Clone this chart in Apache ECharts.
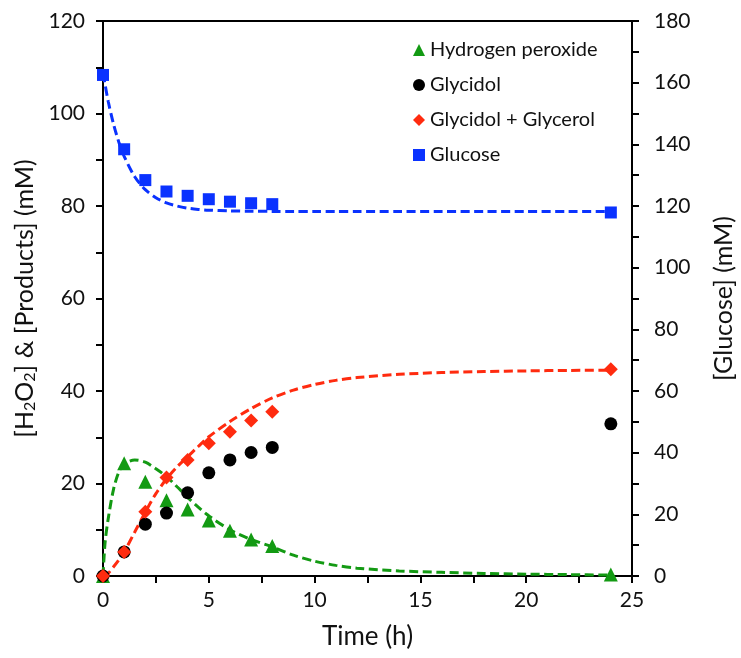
<!DOCTYPE html>
<html>
<head>
<meta charset="utf-8">
<script src="https://cdn.jsdelivr.net/npm/echarts@6/dist/echarts.min.js"></script>
<style>
html,body{margin:0;padding:0;background:#fff;}
#chart{width:741px;height:658px;}
</style>
</head>
<body>
<div id="chart"></div>
<script>
// Measured points
const timePts = [0, 1, 2, 3, 4, 5, 6, 7, 8, 24];
const h2o2 = [0, 24.4, 20.4, 16.4, 14.4, 12.0, 9.8, 7.9, 6.5, 0.3];
const glycidol = [0, 5.2, 11.2, 13.6, 18.0, 22.3, 25.1, 26.7, 27.8, 32.9];
const glycidolGlycerol = [0, 5.2, 13.9, 21.3, 25.1, 28.7, 31.2, 33.6, 35.5, 44.7];
const glucose = [162.5, 138.4, 128.4, 124.7, 123.3, 122.2, 121.4, 120.9, 120.6, 117.9];

// Fitted (dashed) curves
const fitTime = [0, 0.1, 0.25, 0.5, 0.75, 1, 1.5, 2, 2.5, 3, 3.5, 4, 4.5, 5, 6, 7, 8, 9, 10, 11, 12, 14, 16, 18, 20, 22, 24];
const h2o2Fit = [0, 7.3, 12.5, 18.8, 22.5, 24.2, 25.1, 24.6, 23.2, 21.5, 19.3, 17.0, 14.9, 13.0, 10.0, 7.9, 6.3, 4.5, 3.2, 2.3, 1.7, 1.1, 0.8, 0.55, 0.4, 0.3, 0.2];
const glyFit = [0, 0.1, 0.6, 2.0, 3.5, 5.2, 9.5, 13.8, 17.8, 21.0, 23.6, 25.8, 28.0, 30.1, 33.4, 36.2, 38.5, 40.2, 41.4, 42.3, 42.9, 43.6, 44.0, 44.2, 44.35, 44.45, 44.5];
const glucoseFit = [163, 159.3, 153.8, 146.5, 140.7, 136.1, 129.5, 125.3, 122.7, 121.0, 120.0, 119.3, 118.9, 118.65, 118.4, 118.3, 118.25, 118.2, 118.2, 118.2, 118.2, 118.2, 118.2, 118.2, 118.2, 118.2, 118.2];

const seriesNames = ['Hydrogen peroxide', 'Glycidol', 'Glycidol + Glycerol', 'Glucose'];
const leftTicks = {min: 0, max: 120, interval: 20};
const rightTicks = {min: 0, max: 180, interval: 20};
const xTicks = {min: 0, max: 25, interval: 5};

const GREEN = '#139a13', RED = '#ff2b0f', BLUE = '#0a32ff', BLACK = '#000';
const FONT = 'Lato';

function pairs(xs, ys) { return xs.map((x, i) => [x, ys[i]]); }

const chart = echarts.init(document.getElementById('chart'), null, {renderer: 'canvas'});
const axisCommon = {
  axisLine: {show: true, lineStyle: {color: '#000', width: 2}},
  axisTick: {show: true, inside: false, length: 7, lineStyle: {color: '#000', width: 2}},
  minorTick: {show: true, splitNumber: 2, length: 7, lineStyle: {color: '#000', width: 2}},
  splitLine: {show: false},
  axisLabel: {color: '#111', fontFamily: FONT, fontSize: 21},
  nameTextStyle: {color: '#111', fontFamily: FONT, fontSize: 25}
};
const dash = {type: [9, 4.5], width: 3};

chart.setOption({
  animation: false,
  backgroundColor: '#fff',
  grid: {left: 103, right: 109, top: 21, bottom: 82, show: true, borderColor: '#000', borderWidth: 2,
         containLabel: false, outerBoundsMode: 'none'},
  legend: {
    orient: 'vertical', left: 408, top: 35, itemWidth: 12, itemHeight: 12, itemGap: 15,
    textStyle: {fontFamily: FONT, fontSize: 20, color: '#111'},
    data: [
      {name: seriesNames[0], icon: 'triangle'},
      {name: seriesNames[1], icon: 'circle'},
      {name: seriesNames[2], icon: 'diamond'},
      {name: seriesNames[3], icon: 'rect'}
    ]
  },
  xAxis: Object.assign({}, axisCommon, {
    type: 'value', min: xTicks.min, max: xTicks.max, interval: xTicks.interval,
    name: 'Time (h)', nameLocation: 'middle', nameGap: 48,
    nameTextStyle: Object.assign({}, axisCommon.nameTextStyle, {fontSize: 26}),
    axisLabel: Object.assign({}, axisCommon.axisLabel, {margin: 14})
  }),
  yAxis: [
    Object.assign({}, axisCommon, {
      type: 'value', position: 'left', min: leftTicks.min, max: leftTicks.max, interval: leftTicks.interval,
      name: '[H{s|2}O{s|2}] & [Products] (mM)', nameLocation: 'middle', nameGap: 55, nameRotate: 90,
      nameTextStyle: Object.assign({}, axisCommon.nameTextStyle, {
        lineHeight: 26,
        rich: {s: {fontFamily: FONT, fontSize: 16, color: '#111', verticalAlign: 'bottom', lineHeight: 10}}
      }),
      axisLabel: Object.assign({}, axisCommon.axisLabel, {margin: 18})
    }),
    Object.assign({}, axisCommon, {
      type: 'value', position: 'right', min: rightTicks.min, max: rightTicks.max, interval: rightTicks.interval,
      name: '[Glucose] (mM)', nameLocation: 'middle', nameGap: 79, nameRotate: 90,
      axisLabel: Object.assign({}, axisCommon.axisLabel, {margin: 22})
    })
  ],
  series: [
    {type: 'line', name: 'h2o2 fit', data: pairs(fitTime, h2o2Fit), smooth: 0.3, showSymbol: false, symbol: 'none',
     lineStyle: Object.assign({color: GREEN}, dash), z: 1},
    {type: 'line', name: 'gly fit', data: pairs(fitTime, glyFit), smooth: 0.3, showSymbol: false, symbol: 'none',
     lineStyle: Object.assign({color: RED}, dash), z: 1},
    {type: 'line', name: 'glucose fit', yAxisIndex: 1, data: pairs(fitTime, glucoseFit), smooth: 0.3, showSymbol: false, symbol: 'none',
     lineStyle: Object.assign({color: BLUE}, dash), z: 1},
    {type: 'scatter', name: seriesNames[0], data: pairs(timePts, h2o2), symbol: 'triangle', symbolSize: 14,
     itemStyle: {color: GREEN, opacity: 1}, z: 3},
    {type: 'scatter', name: seriesNames[1], data: pairs(timePts, glycidol), symbol: 'circle', symbolSize: 13,
     itemStyle: {color: BLACK, opacity: 1}, z: 3},
    {type: 'scatter', name: seriesNames[2], data: pairs(timePts, glycidolGlycerol), symbol: 'diamond', symbolSize: 14,
     itemStyle: {color: RED, opacity: 1}, z: 3},
    {type: 'scatter', name: seriesNames[3], yAxisIndex: 1, data: pairs(timePts, glucose), symbol: 'rect', symbolSize: 12,
     itemStyle: {color: BLUE, opacity: 1}, z: 3}
  ]
});
</script>
</body>
</html>
